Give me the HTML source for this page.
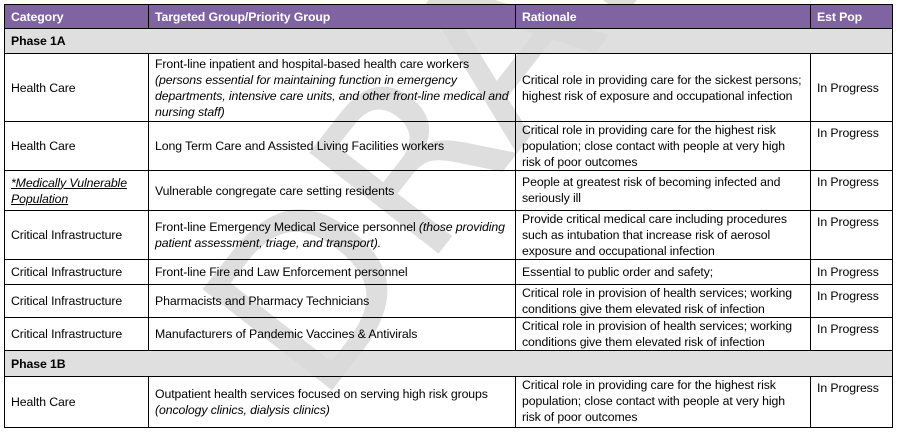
<!DOCTYPE html>
<html><head><style>
html,body{margin:0;width:897px;height:437px;overflow:hidden}
body{background:#fff;position:relative;font-family:"Liberation Sans",sans-serif;font-size:12.3px;color:#000}
.clip{position:absolute;left:0;top:0;width:897px;height:437px;overflow:hidden;z-index:0}
.wm{position:absolute;left:485px;top:70px;transform:translate(-50%,-50%) rotate(-52deg);font-size:225px;color:#dedede;white-space:nowrap;line-height:1;font-family:"DejaVu Sans",sans-serif;font-weight:normal}
.c{position:absolute;box-sizing:border-box;border:1px solid #000;padding:2px 6px;line-height:16px;z-index:1;display:flex;flex-direction:column;letter-spacing:-0.1px}
.m{justify-content:center}.t{justify-content:flex-start;padding-top:3px}
.h{background:#8064A2;color:#fff;font-weight:bold;justify-content:center}
.g{background:rgba(217,217,217,0.85);font-weight:bold;justify-content:center}
i{font-style:italic}
</style></head><body>
<div class="clip"><div class="wm">DRAFT</div></div>
<div class="c h" style="left:4px;top:4px;width:145px;height:25px">Category</div>
<div class="c h" style="left:148px;top:4px;width:368px;height:25px">Targeted Group/Priority Group</div>
<div class="c h" style="left:515px;top:4px;width:296px;height:25px">Rationale</div>
<div class="c h" style="left:810px;top:4px;width:83px;height:25px">Est Pop</div>
<div class="c g" style="left:4px;top:28px;width:889px;height:26px">Phase 1A</div>
<div class="c m" style="left:4px;top:53px;width:145px;height:69px">Health Care</div>
<div class="c m" style="left:148px;top:53px;width:368px;height:69px"><span>Front-line inpatient and hospital-based health care workers <i>(persons essential for maintaining function in emergency departments, intensive care units, and other front-line medical and nursing staff)</i></span></div>
<div class="c m" style="left:515px;top:53px;width:296px;height:69px">Critical role in providing care for the sickest persons; highest risk of exposure and occupational infection</div>
<div class="c m" style="left:810px;top:53px;width:83px;height:69px">In Progress</div>
<div class="c m" style="left:4px;top:121px;width:145px;height:50px">Health Care</div>
<div class="c m" style="left:148px;top:121px;width:368px;height:50px">Long Term Care and Assisted Living Facilities workers</div>
<div class="c t" style="left:515px;top:121px;width:296px;height:50px;padding-top:0">Critical role in providing care for the highest risk population; close contact with people at very high risk of poor outcomes</div>
<div class="c t" style="left:810px;top:121px;width:83px;height:50px">In Progress</div>
<div class="c m" style="left:4px;top:170px;width:145px;height:41px"><i style="text-decoration:underline">*Medically Vulnerable Population</i></div>
<div class="c m" style="left:148px;top:170px;width:368px;height:41px">Vulnerable congregate care setting residents</div>
<div class="c t" style="left:515px;top:170px;width:296px;height:41px">People at greatest risk of becoming infected and seriously ill</div>
<div class="c t" style="left:810px;top:170px;width:83px;height:41px">In Progress</div>
<div class="c m" style="left:4px;top:210px;width:145px;height:50px">Critical Infrastructure</div>
<div class="c m" style="left:148px;top:210px;width:368px;height:50px"><span>Front-line Emergency Medical Service personnel <i>(those providing patient assessment, triage, and transport).</i></span></div>
<div class="c t" style="left:515px;top:210px;width:296px;height:50px;padding-top:0">Provide critical medical care including procedures such as intubation that increase risk of aerosol exposure and occupational infection</div>
<div class="c t" style="left:810px;top:210px;width:83px;height:50px">In Progress</div>
<div class="c m" style="left:4px;top:259px;width:145px;height:26px">Critical Infrastructure</div>
<div class="c m" style="left:148px;top:259px;width:368px;height:26px">Front-line Fire and Law Enforcement personnel</div>
<div class="c m" style="left:515px;top:259px;width:296px;height:26px">Essential to public order and safety;</div>
<div class="c m" style="left:810px;top:259px;width:83px;height:26px">In Progress</div>
<div class="c m" style="left:4px;top:284px;width:145px;height:34px">Critical Infrastructure</div>
<div class="c m" style="left:148px;top:284px;width:368px;height:34px">Pharmacists and Pharmacy Technicians</div>
<div class="c t" style="left:515px;top:284px;width:296px;height:34px;padding-top:0">Critical role in provision of health services; working conditions give them elevated risk of infection</div>
<div class="c t" style="left:810px;top:284px;width:83px;height:34px">In Progress</div>
<div class="c m" style="left:4px;top:317px;width:145px;height:34px">Critical Infrastructure</div>
<div class="c m" style="left:148px;top:317px;width:368px;height:34px">Manufacturers of Pandemic Vaccines &amp; Antivirals</div>
<div class="c t" style="left:515px;top:317px;width:296px;height:34px;padding-top:0">Critical role in provision of health services; working conditions give them elevated risk of infection</div>
<div class="c t" style="left:810px;top:317px;width:83px;height:34px">In Progress</div>
<div class="c g" style="left:4px;top:350px;width:889px;height:27px">Phase 1B</div>
<div class="c m" style="left:4px;top:376px;width:145px;height:52px">Health Care</div>
<div class="c m" style="left:148px;top:376px;width:368px;height:52px"><span>Outpatient health services focused on serving high risk groups <i>(oncology clinics, dialysis clinics)</i></span></div>
<div class="c t" style="left:515px;top:376px;width:296px;height:52px;padding-top:0">Critical role in providing care for the highest risk population; close contact with people at very high risk of poor outcomes</div>
<div class="c t" style="left:810px;top:376px;width:83px;height:52px">In Progress</div>
</body></html>
